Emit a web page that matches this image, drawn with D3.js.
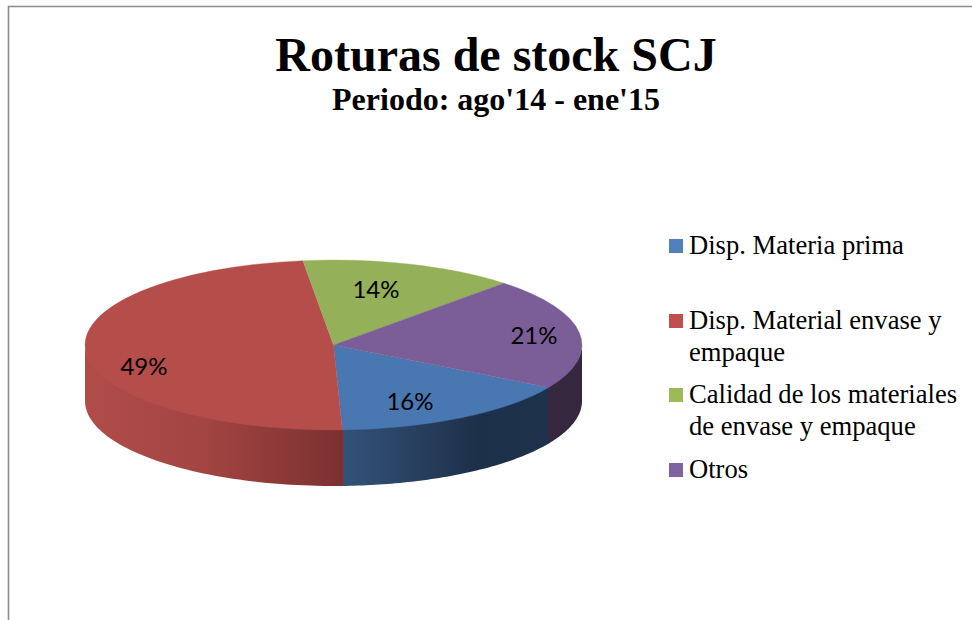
<!DOCTYPE html>
<html><head><meta charset="utf-8">
<script src="https://cdn.jsdelivr.net/npm/d3@7"></script>
<style>html,body{margin:0;padding:0;background:#fff}svg{display:block}</style>
</head><body><svg id="c" width="972" height="620"></svg>
<script>
const categories = ["Disp. Materia prima","Disp. Material envase y empaque","Calidad de los materiales de envase y empaque","Otros"];
const legendLines = [["Disp. Materia prima"],["Disp. Material envase y","empaque"],["Calidad de los materiales","de envase y empaque"],["Otros"]];
const values = [16.1,48.6,14.0,21.3];
const labels = ["16%","49%","14%","21%"];
const topColors = ["#4877b1","#b54e4b","#94b058","#7b5e98"];
const legendColors = ["#4f81bd","#c0504d","#9bbb59","#8064a2"];
const wallStops = [
  [["0","#34537a"],["0.65","#1d3049"],["1","#1e324b"]],
  [["0","#b14c49"],["0.45","#a34543"],["1","#7b3130"]],
  [["0","#94b058"],["1","#94b058"]],
  [["0","#35283f"],["1","#35273e"]]
];
const title = "Roturas de stock SCJ", subtitle = "Periodo: ago'14 - ene'15";

const svg = d3.select("#c");
svg.append("path").attr("d","M8.5 620V6.5H972").attr("fill","none").attr("stroke","#8c8c8c").attr("stroke-width",1.6);

const cx=333.5, cy=345, rx=248.5, ry=85, depth=56, R=1000;
const sx=d3.scaleLinear().domain([-1,1]).range([cx-rx,cx+rx]);
const sy=d3.scaleLinear().domain([-1,1]).range([cy-ry,cy+ry]);
const start=120*Math.PI/180;
const pie=d3.pie().sort(null).value(d=>d).startAngle(start).endAngle(start+2*Math.PI);
const arcs=pie(values);
const px=a=>sx(Math.sin(a)), py=a=>sy(-Math.cos(a));
const defs=svg.append("defs");

const norm=Math.PI*2, eps=0.004;
function frontRanges(a0,a1){
  const out=[];
  for(const k of [0,1]){
    const f0=Math.PI/2+k*norm, f1=3*Math.PI/2+k*norm;
    const lo=Math.max(a0-eps,f0), hi=Math.min(a1+eps,f1);
    if(hi>lo+2*eps) out.push([lo,hi]);
  }
  return out;
}
const wallLine=d3.line();
arcs.forEach((d,i)=>{
  frontRanges(d.startAngle,d.endAngle).forEach((r,j)=>{
    const id=`w${i}_${j}`;
    const ang=d3.range(0,61).map(t=>r[0]+(r[1]-r[0])*t/60);
    const xs=ang.map(px);
    const lg=defs.append("linearGradient").attr("id",id).attr("gradientUnits","userSpaceOnUse")
      .attr("x1",d3.min(xs)).attr("x2",d3.max(xs)).attr("y1",0).attr("y2",0);
    wallStops[i].forEach(s=>lg.append("stop").attr("offset",s[0]).attr("stop-color",s[1]));
    const pts=ang.map(a=>[px(a),py(a)-1]).concat(ang.slice().reverse().map(a=>[px(a),py(a)+depth]));
    svg.append("path").attr("d",wallLine(pts)+"Z").attr("fill",`url(#${id})`);
  });
});
const topG=svg.append("g").attr("transform",`translate(${cx},${cy}) scale(${rx/R},${ry/R})`);
const arc=d3.arc().innerRadius(0).outerRadius(R);
topG.selectAll("path").data(arcs).join("path").attr("d",arc).attr("fill",(d,i)=>topColors[i])
  .attr("stroke",(d,i)=>topColors[i]).attr("stroke-width",2);

const labelPos=[[410,402],[144,367],[376,290],[534,336]];
svg.selectAll("text.dl").data(labels).join("text").attr("class","dl")
  .attr("x",(d,i)=>labelPos[i][0]).attr("y",(d,i)=>labelPos[i][1]).attr("dy","0.35em")
  .attr("text-anchor","middle").attr("font-family","Lato").attr("font-size",24).attr("fill","#000").text(d=>d);

svg.append("text").attr("x",496).attr("y",71).attr("text-anchor","middle").attr("font-family","Liberation Serif").attr("font-weight","bold").attr("font-size",48).attr("fill","#000").text(title);
svg.append("text").attr("x",496).attr("y",110).attr("text-anchor","middle").attr("font-family","Liberation Serif").attr("font-weight","bold").attr("font-size",32).attr("fill","#000").text(subtitle);

const legY=[246,321,395,470];
categories.forEach((c,i)=>{
  svg.append("rect").attr("x",669).attr("y",legY[i]-7).attr("width",14).attr("height",14).attr("fill",legendColors[i]);
  legendLines[i].forEach((t,j)=>{
    svg.append("text").attr("x",689).attr("y",legY[i]+8+j*31.5).attr("font-family","Liberation Serif").attr("font-size",26.6).attr("fill","#000").text(t);
  });
});
</script></body></html>
